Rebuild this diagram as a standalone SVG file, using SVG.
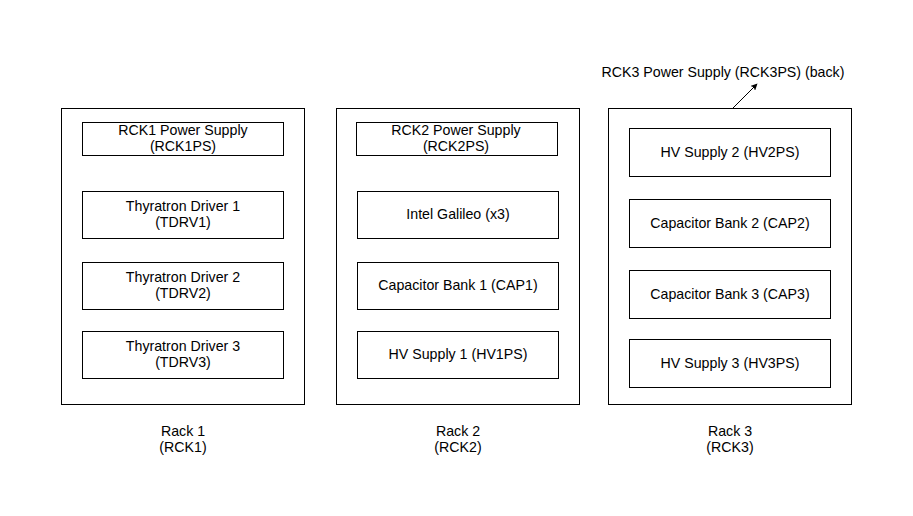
<svg xmlns="http://www.w3.org/2000/svg" width="913" height="516" viewBox="0 0 913 516">
<defs>
<style>
.rack{fill:#fff;stroke:#000;stroke-width:1}
.box{fill:#fff;stroke:#000;stroke-width:1}
text{font-family:"Liberation Sans",Arial,Helvetica,sans-serif;font-size:14.2px;fill:#000;text-anchor:middle}
.conn{stroke:#000;stroke-width:1;fill:none}
</style>
<marker id="arr" viewBox="0 0 10 10" refX="9" refY="5" markerWidth="7" markerHeight="7" orient="auto" markerUnits="userSpaceOnUse">
<path d="M0,0 L10,5 L0,10 L2.5,5 z" fill="#000"/>
</marker>
</defs>
<rect width="913" height="516" fill="#fff"/>

<g id="rack1">
<rect class="rack" x="61.5" y="108.5" width="243" height="296"/>
<text x="183" y="436">Rack 1</text>
<text x="183" y="452">(RCK1)</text>
</g>
<g id="rack2">
<rect class="rack" x="336.5" y="108.5" width="243" height="296"/>
<text x="458" y="436">Rack 2</text>
<text x="458" y="452">(RCK2)</text>
</g>
<g id="rack3">
<rect class="rack" x="608.5" y="108.5" width="243" height="296"/>
<text x="730" y="436">Rack 3</text>
<text x="730" y="452">(RCK3)</text>
</g>

<g id="rck1ps">
<rect class="box" x="82.5" y="122.5" width="201" height="33"/>
<text x="183" y="135">RCK1 Power Supply</text>
<text x="183" y="151">(RCK1PS)</text>
</g>
<g id="tdrv1">
<rect class="box" x="82.5" y="191.5" width="201" height="47"/>
<text x="183" y="211">Thyratron Driver 1</text>
<text x="183" y="227">(TDRV1)</text>
</g>
<g id="tdrv2">
<rect class="box" x="82.5" y="262.5" width="201" height="47"/>
<text x="183" y="282">Thyratron Driver 2</text>
<text x="183" y="298">(TDRV2)</text>
</g>
<g id="tdrv3">
<rect class="box" x="82.5" y="331.5" width="201" height="47"/>
<text x="183" y="351">Thyratron Driver 3</text>
<text x="183" y="367">(TDRV3)</text>
</g>

<g id="rck2ps">
<rect class="box" x="356.5" y="122.5" width="201" height="33"/>
<text x="456" y="135">RCK2 Power Supply</text>
<text x="456" y="151">(RCK2PS)</text>
</g>
<g id="galileo">
<rect class="box" x="357.5" y="191.5" width="201" height="47"/>
<text x="458" y="219">Intel Galileo (x3)</text>
</g>
<g id="cap1">
<rect class="box" x="357.5" y="262.5" width="201" height="47"/>
<text x="458" y="290">Capacitor Bank 1 (CAP1)</text>
</g>
<g id="hv1ps">
<rect class="box" x="357.5" y="331.5" width="201" height="47"/>
<text x="458" y="359">HV Supply 1 (HV1PS)</text>
</g>

<g id="hv2ps">
<rect class="box" x="629.5" y="128.5" width="201" height="48"/>
<text x="730" y="157">HV Supply 2 (HV2PS)</text>
</g>
<g id="cap2">
<rect class="box" x="629.5" y="199.5" width="201" height="48"/>
<text x="730" y="228">Capacitor Bank 2 (CAP2)</text>
</g>
<g id="cap3">
<rect class="box" x="629.5" y="270.5" width="201" height="48"/>
<text x="730" y="299">Capacitor Bank 3 (CAP3)</text>
</g>
<g id="hv3ps">
<rect class="box" x="629.5" y="339.5" width="201" height="48"/>
<text x="730" y="368">HV Supply 3 (HV3PS)</text>
</g>

<g id="rck3ps">
<text x="723" y="77">RCK3 Power Supply (RCK3PS) (back)</text>
</g>

<g id="connectors">
<line class="conn" x1="733" y1="108" x2="757" y2="84" marker-end="url(#arr)"/>
</g>
</svg>
